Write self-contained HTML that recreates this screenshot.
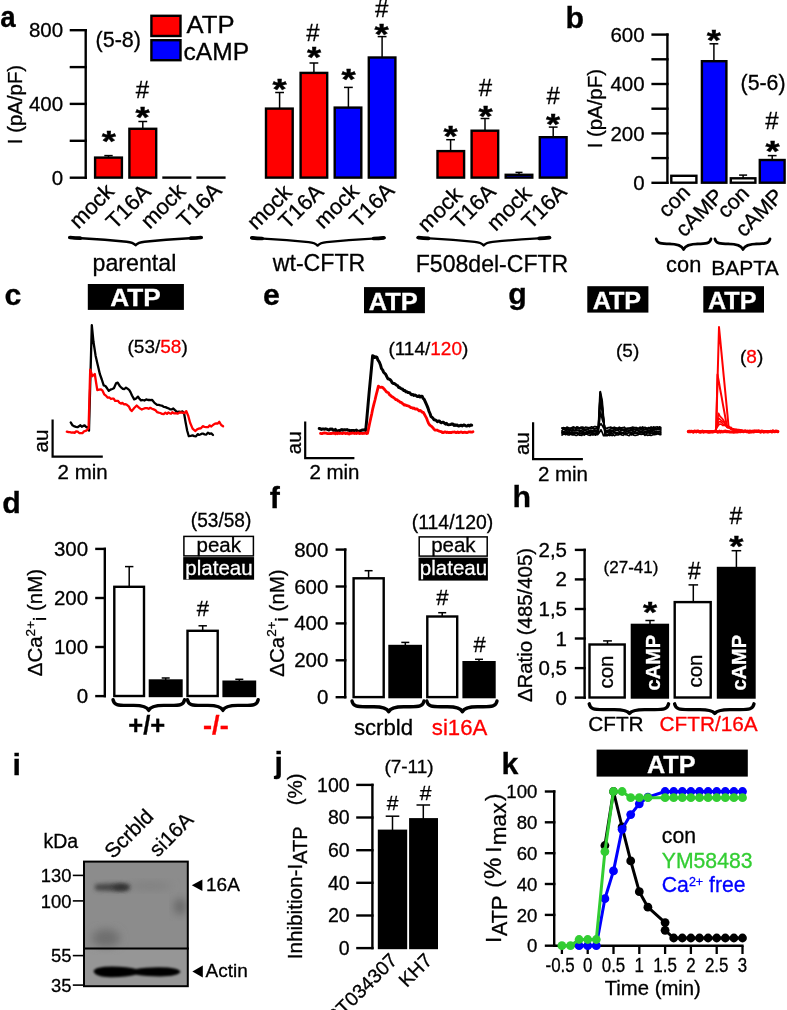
<!DOCTYPE html>
<html><head><meta charset="utf-8"><title>Figure</title>
<style>html,body{margin:0;padding:0;background:#fff}svg{display:block;filter:blur(0.4px)}text{font-family:"Liberation Sans",Arial,sans-serif}</style>
</head><body>
<svg width="787" height="1010" viewBox="0 0 787 1010">
<rect width="787" height="1010" fill="#fff"/>
<text x="0.3" y="26.9" font-size="30.3" font-weight="bold" stroke="#000" stroke-width="0.3" textLength="15.4" lengthAdjust="spacingAndGlyphs">a</text>
<line x1="85.7" y1="29.0" x2="85.7" y2="178.9" stroke="#000" stroke-width="2.4" stroke-linecap="butt"/>
<line x1="69.7" y1="30.2" x2="86.9" y2="30.2" stroke="#000" stroke-width="2.4" stroke-linecap="butt"/>
<line x1="69.7" y1="67.1" x2="86.9" y2="67.1" stroke="#000" stroke-width="2.4" stroke-linecap="butt"/>
<line x1="69.7" y1="103.9" x2="86.9" y2="103.9" stroke="#000" stroke-width="2.4" stroke-linecap="butt"/>
<line x1="69.7" y1="140.8" x2="86.9" y2="140.8" stroke="#000" stroke-width="2.4" stroke-linecap="butt"/>
<line x1="69.7" y1="177.7" x2="86.9" y2="177.7" stroke="#000" stroke-width="2.4" stroke-linecap="butt"/>
<text x="63.2" y="37.3" font-size="20.5" text-anchor="end" stroke="#000" stroke-width="0.3">800</text>
<text x="63.2" y="111.0" font-size="20.5" text-anchor="end" stroke="#000" stroke-width="0.3">400</text>
<text x="63.2" y="184.8" font-size="20.5" text-anchor="end" stroke="#000" stroke-width="0.3">0</text>
<text transform="translate(21.8,104.5) rotate(-90)" font-size="20.4" text-anchor="middle" stroke="#000" stroke-width="0.3">I (pA/pF)</text>
<text x="95.6" y="46.5" font-size="21.5" stroke="#000" stroke-width="0.3">(5-8)</text>
<rect x="151.4" y="15.8" width="29.1" height="20.2" fill="#ff0000" stroke="#000" stroke-width="2.4"/>
<rect x="151.4" y="40.2" width="29.1" height="20.0" fill="#0000ff" stroke="#000" stroke-width="2.4"/>
<text x="186.6" y="32.6" font-size="23.5" stroke="#000" stroke-width="0.3" textLength="48.0" lengthAdjust="spacingAndGlyphs">ATP</text>
<text x="183.6" y="60.1" font-size="23.5" stroke="#000" stroke-width="0.3" textLength="65.5" lengthAdjust="spacingAndGlyphs">cAMP</text>
<rect x="95.1" y="157.6" width="26.8" height="20.0" fill="#ff0000" stroke="#000" stroke-width="2.4"/>
<rect x="129.4" y="128.8" width="26.8" height="48.8" fill="#ff0000" stroke="#000" stroke-width="2.4"/>
<line x1="162.3" y1="177.6" x2="191.4" y2="177.6" stroke="#000" stroke-width="2.4" stroke-linecap="butt"/>
<line x1="196.4" y1="177.6" x2="225.6" y2="177.6" stroke="#000" stroke-width="2.4" stroke-linecap="butt"/>
<line x1="108.5" y1="155.6" x2="108.5" y2="157.4" stroke="#000" stroke-width="1.5" stroke-linecap="butt"/>
<line x1="104.3" y1="155.6" x2="112.7" y2="155.6" stroke="#000" stroke-width="1.5" stroke-linecap="butt"/>
<line x1="142.8" y1="121.5" x2="142.8" y2="128.6" stroke="#000" stroke-width="1.5" stroke-linecap="butt"/>
<line x1="138.4" y1="121.5" x2="147.2" y2="121.5" stroke="#000" stroke-width="1.5" stroke-linecap="butt"/>
<text transform="translate(101.72,151.11) scale(1.009,0.826)" font-size="36.0" font-weight="bold" stroke="#000" stroke-width="0.5">*</text>
<text transform="translate(135.52,127.09) scale(1.009,0.841)" font-size="36.0" font-weight="bold" stroke="#000" stroke-width="0.5">*</text>
<text x="135.7" y="97.6" font-size="24" stroke="#000" stroke-width="0.3">#</text>
<rect x="266.0" y="108.6" width="26.7" height="69.0" fill="#ff0000" stroke="#000" stroke-width="2.4"/>
<rect x="300.6" y="72.9" width="26.6" height="104.7" fill="#ff0000" stroke="#000" stroke-width="2.4"/>
<rect x="334.7" y="107.6" width="26.6" height="70.0" fill="#0000ff" stroke="#000" stroke-width="2.4"/>
<rect x="368.8" y="57.5" width="26.6" height="120.1" fill="#0000ff" stroke="#000" stroke-width="2.4"/>
<line x1="279.6" y1="92.5" x2="279.6" y2="108.4" stroke="#000" stroke-width="1.5" stroke-linecap="butt"/>
<line x1="275.2" y1="92.5" x2="284.0" y2="92.5" stroke="#000" stroke-width="1.5" stroke-linecap="butt"/>
<line x1="313.9" y1="63.0" x2="313.9" y2="72.7" stroke="#000" stroke-width="1.5" stroke-linecap="butt"/>
<line x1="309.5" y1="63.0" x2="318.3" y2="63.0" stroke="#000" stroke-width="1.5" stroke-linecap="butt"/>
<line x1="348.4" y1="87.4" x2="348.4" y2="107.4" stroke="#000" stroke-width="1.5" stroke-linecap="butt"/>
<line x1="344.0" y1="87.4" x2="352.8" y2="87.4" stroke="#000" stroke-width="1.5" stroke-linecap="butt"/>
<line x1="382.1" y1="36.6" x2="382.1" y2="57.3" stroke="#000" stroke-width="1.5" stroke-linecap="butt"/>
<line x1="377.7" y1="36.6" x2="386.5" y2="36.6" stroke="#000" stroke-width="1.5" stroke-linecap="butt"/>
<text transform="translate(272.42,98.91) scale(1.009,0.826)" font-size="36.0" font-weight="bold" stroke="#000" stroke-width="0.5">*</text>
<text transform="translate(306.92,66.81) scale(1.009,0.826)" font-size="36.0" font-weight="bold" stroke="#000" stroke-width="0.5">*</text>
<text transform="translate(341.52,89.19) scale(1.009,0.841)" font-size="36.0" font-weight="bold" stroke="#000" stroke-width="0.5">*</text>
<text transform="translate(374.62,44.29) scale(1.009,0.841)" font-size="36.0" font-weight="bold" stroke="#000" stroke-width="0.5">*</text>
<text x="306.3" y="40.6" font-size="24" stroke="#000" stroke-width="0.3">#</text>
<text x="375.0" y="17.2" font-size="24" stroke="#000" stroke-width="0.3">#</text>
<rect x="437.5" y="151.1" width="26.6" height="26.5" fill="#ff0000" stroke="#000" stroke-width="2.4"/>
<rect x="471.6" y="130.7" width="26.6" height="46.9" fill="#ff0000" stroke="#000" stroke-width="2.4"/>
<rect x="505.7" y="174.8" width="26.6" height="2.8" fill="#0000ff" stroke="#000" stroke-width="2.4"/>
<rect x="539.8" y="137.2" width="26.8" height="40.4" fill="#0000ff" stroke="#000" stroke-width="2.4"/>
<line x1="450.6" y1="139.7" x2="450.6" y2="150.9" stroke="#000" stroke-width="1.5" stroke-linecap="butt"/>
<line x1="446.2" y1="139.7" x2="455.0" y2="139.7" stroke="#000" stroke-width="1.5" stroke-linecap="butt"/>
<line x1="485.0" y1="118.5" x2="485.0" y2="130.5" stroke="#000" stroke-width="1.5" stroke-linecap="butt"/>
<line x1="480.6" y1="118.5" x2="489.4" y2="118.5" stroke="#000" stroke-width="1.5" stroke-linecap="butt"/>
<line x1="519.0" y1="172.4" x2="519.0" y2="174.6" stroke="#000" stroke-width="1.5" stroke-linecap="butt"/>
<line x1="515.5" y1="172.4" x2="522.5" y2="172.4" stroke="#000" stroke-width="1.5" stroke-linecap="butt"/>
<line x1="553.2" y1="127.1" x2="553.2" y2="137.0" stroke="#000" stroke-width="1.5" stroke-linecap="butt"/>
<line x1="548.8" y1="127.1" x2="557.6" y2="127.1" stroke="#000" stroke-width="1.5" stroke-linecap="butt"/>
<text transform="translate(443.52,146.01) scale(1.009,0.826)" font-size="36.0" font-weight="bold" stroke="#000" stroke-width="0.5">*</text>
<text transform="translate(478.42,126.11) scale(1.009,0.826)" font-size="36.0" font-weight="bold" stroke="#000" stroke-width="0.5">*</text>
<text transform="translate(546.12,134.31) scale(1.009,0.826)" font-size="36.0" font-weight="bold" stroke="#000" stroke-width="0.5">*</text>
<text x="478.8" y="95.8" font-size="24" stroke="#000" stroke-width="0.3">#</text>
<text x="546.5" y="104.0" font-size="24" stroke="#000" stroke-width="0.3">#</text>
<text transform="translate(115.4,192.6) rotate(-45)" font-size="22" text-anchor="end" stroke="#000" stroke-width="0.3">mock</text>
<text transform="translate(152.1,193.0) rotate(-45)" font-size="22" text-anchor="end" stroke="#000" stroke-width="0.3">T16A</text>
<text transform="translate(186.8,192.6) rotate(-45)" font-size="22" text-anchor="end" stroke="#000" stroke-width="0.3">mock</text>
<text transform="translate(223.0,191.8) rotate(-45)" font-size="22" text-anchor="end" stroke="#000" stroke-width="0.3">T16A</text>
<text transform="translate(293.1,193.7) rotate(-45)" font-size="22" text-anchor="end" stroke="#000" stroke-width="0.3">mock</text>
<text transform="translate(324.8,193.0) rotate(-45)" font-size="22" text-anchor="end" stroke="#000" stroke-width="0.3">T16A</text>
<text transform="translate(360.2,192.6) rotate(-45)" font-size="22" text-anchor="end" stroke="#000" stroke-width="0.3">mock</text>
<text transform="translate(395.7,191.8) rotate(-45)" font-size="22" text-anchor="end" stroke="#000" stroke-width="0.3">T16A</text>
<text transform="translate(463.6,196.0) rotate(-45)" font-size="22" text-anchor="end" stroke="#000" stroke-width="0.3">mock</text>
<text transform="translate(497.1,193.0) rotate(-45)" font-size="22" text-anchor="end" stroke="#000" stroke-width="0.3">T16A</text>
<text transform="translate(532.9,194.9) rotate(-45)" font-size="22" text-anchor="end" stroke="#000" stroke-width="0.3">mock</text>
<text transform="translate(568.0,193.0) rotate(-45)" font-size="22" text-anchor="end" stroke="#000" stroke-width="0.3">T16A</text>
<path d="M69.2,237.5 Q75.2,238.3 81.2,238.3 C91.8,238.9 113.7,240.5 126.6,241.8 Q133.1,242.5 135.6,245.3 Q138.1,242.5 144.6,241.8 C157.4,240.5 179.3,238.9 189.8,238.3 Q195.8,238.3 201.8,237.5" fill="none" stroke="#000" stroke-width="2.4" stroke-linecap="round" stroke-linejoin="round"/>
<path d="M70.1,237.5 Q75.2,238.2 80.2,238.2" fill="none" stroke="#000" stroke-width="3.7" stroke-linecap="round"/>
<path d="M200.9,237.5 Q195.8,238.2 190.8,238.2" fill="none" stroke="#000" stroke-width="3.7" stroke-linecap="round"/>
<path d="M251.2,237.8 Q257.2,238.6 263.2,238.6 C273.8,239.2 295.7,240.8 308.6,242.1 Q315.1,242.8 317.6,245.6 Q320.1,242.8 326.6,242.1 C339.7,240.8 361.8,239.2 372.6,238.6 Q378.6,238.6 384.6,237.8" fill="none" stroke="#000" stroke-width="2.4" stroke-linecap="round" stroke-linejoin="round"/>
<path d="M252.1,237.8 Q257.2,238.5 262.2,238.5" fill="none" stroke="#000" stroke-width="3.7" stroke-linecap="round"/>
<path d="M383.7,237.8 Q378.6,238.5 373.6,238.5" fill="none" stroke="#000" stroke-width="3.7" stroke-linecap="round"/>
<path d="M417.5,237.6 Q423.5,238.4 429.5,238.4 C440.0,239.0 461.9,240.6 474.7,241.9 Q481.2,242.6 483.7,245.4 Q486.2,242.6 492.7,241.9 C505.6,240.6 527.6,239.0 538.2,238.4 Q544.2,238.4 550.2,237.6" fill="none" stroke="#000" stroke-width="2.4" stroke-linecap="round" stroke-linejoin="round"/>
<path d="M418.4,237.6 Q423.5,238.3 428.5,238.3" fill="none" stroke="#000" stroke-width="3.7" stroke-linecap="round"/>
<path d="M549.3,237.6 Q544.2,238.3 539.2,238.3" fill="none" stroke="#000" stroke-width="3.7" stroke-linecap="round"/>
<text x="134.4" y="270.8" font-size="24.3" text-anchor="middle" stroke="#000" stroke-width="0.3" textLength="83.8" lengthAdjust="spacingAndGlyphs">parental</text>
<text x="319.0" y="271.0" font-size="24.3" text-anchor="middle" stroke="#000" stroke-width="0.3" textLength="92.5" lengthAdjust="spacingAndGlyphs">wt-CFTR</text>
<text x="492.0" y="271.7" font-size="24.3" text-anchor="middle" stroke="#000" stroke-width="0.3" textLength="152.5" lengthAdjust="spacingAndGlyphs">F508del-CFTR</text>
<text x="565.5" y="27.6" font-size="30.3" font-weight="bold" stroke="#000" stroke-width="0.3">b</text>
<line x1="667.4" y1="33.4" x2="667.4" y2="184.0" stroke="#000" stroke-width="2.4" stroke-linecap="butt"/>
<line x1="651.4" y1="34.6" x2="668.6" y2="34.6" stroke="#000" stroke-width="2.4" stroke-linecap="butt"/>
<line x1="651.4" y1="59.3" x2="668.6" y2="59.3" stroke="#000" stroke-width="2.4" stroke-linecap="butt"/>
<line x1="651.4" y1="84.0" x2="668.6" y2="84.0" stroke="#000" stroke-width="2.4" stroke-linecap="butt"/>
<line x1="651.4" y1="108.7" x2="668.6" y2="108.7" stroke="#000" stroke-width="2.4" stroke-linecap="butt"/>
<line x1="651.4" y1="133.4" x2="668.6" y2="133.4" stroke="#000" stroke-width="2.4" stroke-linecap="butt"/>
<line x1="651.4" y1="158.1" x2="668.6" y2="158.1" stroke="#000" stroke-width="2.4" stroke-linecap="butt"/>
<line x1="651.4" y1="182.8" x2="668.6" y2="182.8" stroke="#000" stroke-width="2.4" stroke-linecap="butt"/>
<text x="644.6" y="41.7" font-size="20.5" text-anchor="end" stroke="#000" stroke-width="0.3">600</text>
<text x="644.6" y="91.1" font-size="20.5" text-anchor="end" stroke="#000" stroke-width="0.3">400</text>
<text x="644.6" y="140.5" font-size="20.5" text-anchor="end" stroke="#000" stroke-width="0.3">200</text>
<text x="644.6" y="189.9" font-size="20.5" text-anchor="end" stroke="#000" stroke-width="0.3">0</text>
<text transform="translate(602.1,108.7) rotate(-90)" font-size="20.4" text-anchor="middle" stroke="#000" stroke-width="0.3">I (pA/pF)</text>
<rect x="671.3" y="175.8" width="25.1" height="6.9" fill="#fff" stroke="#000" stroke-width="2.4"/>
<rect x="701.9" y="61.2" width="24.5" height="121.5" fill="#0000ff" stroke="#000" stroke-width="2.4"/>
<rect x="730.8" y="178.3" width="24.6" height="4.4" fill="#fff" stroke="#000" stroke-width="2.4"/>
<rect x="759.8" y="160.0" width="24.8" height="22.7" fill="#0000ff" stroke="#000" stroke-width="2.4"/>
<line x1="713.9" y1="43.8" x2="713.9" y2="61.0" stroke="#000" stroke-width="1.5" stroke-linecap="butt"/>
<line x1="709.5" y1="43.8" x2="718.3" y2="43.8" stroke="#000" stroke-width="1.5" stroke-linecap="butt"/>
<line x1="743.1" y1="175.1" x2="743.1" y2="178.1" stroke="#000" stroke-width="1.5" stroke-linecap="butt"/>
<line x1="739.1" y1="175.1" x2="747.1" y2="175.1" stroke="#000" stroke-width="1.5" stroke-linecap="butt"/>
<line x1="772.2" y1="155.6" x2="772.2" y2="159.8" stroke="#000" stroke-width="1.5" stroke-linecap="butt"/>
<line x1="767.8" y1="155.6" x2="776.6" y2="155.6" stroke="#000" stroke-width="1.5" stroke-linecap="butt"/>
<text transform="translate(706.72,50.31) scale(1.009,0.826)" font-size="36.0" font-weight="bold" stroke="#000" stroke-width="0.5">*</text>
<text transform="translate(765.52,160.94) scale(1.009,0.811)" font-size="36.0" font-weight="bold" stroke="#000" stroke-width="0.5">*</text>
<text x="765.3" y="128.8" font-size="24" stroke="#000" stroke-width="0.3">#</text>
<text x="740.6" y="89.6" font-size="21.3" stroke="#000" stroke-width="0.3">(5-6)</text>
<text transform="translate(691.4,193.9) rotate(-45)" font-size="21.5" text-anchor="end" stroke="#000" stroke-width="0.3">con</text>
<text transform="translate(750.4,194.7) rotate(-45)" font-size="21.5" text-anchor="end" stroke="#000" stroke-width="0.3">con</text>
<text transform="translate(724.7,197.5) rotate(-45)" font-size="21.5" text-anchor="end" stroke="#000" stroke-width="0.3">cAMP</text>
<text transform="translate(784.5,197.5) rotate(-45)" font-size="21.5" text-anchor="end" stroke="#000" stroke-width="0.3">cAMP</text>
<path d="M656.2,238.9 C657.2,243.6 661.2,243.9 670.2,243.9 L668.6,243.9 C677.6,243.9 682.1,245.6 683.6,249.5 C685.1,245.6 689.6,243.9 698.6,243.9 L697.0,243.9 C706.0,243.9 710.0,243.6 711.0,238.9" fill="none" stroke="#000" stroke-width="2.7" stroke-linecap="round" stroke-linejoin="round"/>
<path d="M714.9,238.9 C715.9,243.6 719.9,243.9 728.9,243.9 L728.0,243.9 C737.0,243.9 741.5,245.6 743.0,249.5 C744.5,245.6 749.0,243.9 758.0,243.9 L756.0,243.9 C765.0,243.9 769.0,243.6 770.0,238.9" fill="none" stroke="#000" stroke-width="2.7" stroke-linecap="round" stroke-linejoin="round"/>
<text x="683.7" y="272.4" font-size="21.8" text-anchor="middle" stroke="#000" stroke-width="0.3">con</text>
<text x="745.0" y="275.0" font-size="21.0" text-anchor="middle" stroke="#000" stroke-width="0.3">BAPTA</text>
<text x="4.5" y="305.2" font-size="30.3" font-weight="bold" stroke="#000" stroke-width="0.3">c</text>
<rect x="87.8" y="284.0" width="96.1" height="25.9" fill="#000"/>
<text x="135.4" y="306.1" font-size="23.5" text-anchor="middle" font-weight="bold" fill="#fff" stroke="#fff" stroke-width="0.3" textLength="50.5" lengthAdjust="spacingAndGlyphs">ATP</text>
<text x="263.0" y="305.2" font-size="30.3" font-weight="bold" stroke="#000" stroke-width="0.3">e</text>
<rect x="364.0" y="287.1" width="60.9" height="26.1" fill="#000"/>
<text x="393.2" y="310.1" font-size="23.5" text-anchor="middle" font-weight="bold" fill="#fff" stroke="#fff" stroke-width="0.3" textLength="49.0" lengthAdjust="spacingAndGlyphs">ATP</text>
<text x="508.2" y="304.2" font-size="30.3" font-weight="bold" stroke="#000" stroke-width="0.3">g</text>
<rect x="587.3" y="286.2" width="61.1" height="26.4" fill="#000"/>
<text x="616.9" y="308.9" font-size="23" text-anchor="middle" font-weight="bold" fill="#fff" stroke="#fff" stroke-width="0.3" textLength="48.5" lengthAdjust="spacingAndGlyphs">ATP</text>
<rect x="703.3" y="286.2" width="60.7" height="26.4" fill="#000"/>
<text x="732.3" y="308.9" font-size="23" text-anchor="middle" font-weight="bold" fill="#fff" stroke="#fff" stroke-width="0.3" textLength="48.5" lengthAdjust="spacingAndGlyphs">ATP</text>
<text x="127.5" y="353.2" font-size="19" stroke="#000" stroke-width="0.3">(53/<tspan fill="#ff0000" stroke="#ff0000">58</tspan>)</text>
<text x="388.4" y="354.7" font-size="19" stroke="#000" stroke-width="0.3">(114/<tspan fill="#ff0000" stroke="#ff0000">120</tspan>)</text>
<text x="616.0" y="357.4" font-size="19" stroke="#000" stroke-width="0.3">(5)</text>
<text x="740.0" y="363.0" font-size="19" stroke="#000" stroke-width="0.3">(<tspan fill="#ff0000" stroke="#ff0000">8</tspan>)</text>
<path d="M52.6,419.6 L52.6,456.6 L102.8,456.6" fill="none" stroke="#000" stroke-width="2.2"/>
<text transform="translate(48.3,441.1) rotate(-90)" font-size="20.5" text-anchor="middle" stroke="#000" stroke-width="0.3">au</text>
<text x="57.6" y="478.9" font-size="20.5" stroke="#000" stroke-width="0.3">2 min</text>
<path d="M305.2,421.5 L305.2,458.1 L354.4,458.1" fill="none" stroke="#000" stroke-width="2.2"/>
<text transform="translate(300.9,442.8) rotate(-90)" font-size="20.5" text-anchor="middle" stroke="#000" stroke-width="0.3">au</text>
<text x="309.4" y="479.4" font-size="20.5" stroke="#000" stroke-width="0.3">2 min</text>
<path d="M533.1,422.2 L533.1,459.2 L582.9,459.2" fill="none" stroke="#000" stroke-width="2.2"/>
<text transform="translate(528.8,443.7) rotate(-90)" font-size="20.5" text-anchor="middle" stroke="#000" stroke-width="0.3">au</text>
<text x="537.9" y="480.5" font-size="20.5" stroke="#000" stroke-width="0.3">2 min</text>
<polyline points="70.7,422.4 72.5,425.3 74.5,426.4 76.0,426.9 77.5,427.2 79.0,426.2 80.4,425.3 81.8,426.7 83.2,425.9 84.6,425.4 86.4,427.3 88.2,427.0 89.0,430.6 90.4,377.9 91.8,325.2 93.5,342.0 95.6,355.7 97.5,363.9 99.9,374.2 101.8,379.5 103.7,385.4 105.4,386.0 107.1,388.3 108.8,390.8 110.5,389.6 112.2,389.0 113.9,388.2 116.0,383.4 117.7,382.6 120.0,386.3 121.4,387.7 122.8,388.8 124.4,389.0 126.0,387.6 127.5,388.6 129.1,389.8 130.6,392.4 132.0,395.5 134.2,399.4 136.1,398.5 138.0,396.6 139.5,398.8 141.0,400.4 142.7,400.0 144.4,400.5 146.2,399.4 148.0,400.0 149.3,399.8 150.7,400.2 152.0,399.8 154.5,402.9 157.1,404.9 158.7,404.8 160.4,405.3 162.0,405.7 163.7,406.8 165.5,407.1 167.2,407.9 168.8,408.5 170.4,409.4 172.0,409.3 173.3,408.5 174.7,409.9 176.1,411.2 177.4,411.9 179.1,411.7 180.8,412.1 182.5,411.4 184.2,414.0 185.5,421.7 187.2,430.7 188.8,436.2 190.7,435.9 192.6,435.4 194.3,436.1 196.0,436.3 197.7,434.1 199.0,434.9 200.3,434.5 201.7,433.7 203.0,433.7 204.6,434.3 206.3,434.6 207.9,432.6 209.6,433.8 211.3,433.4 213.0,435.0" fill="none" stroke="#000" stroke-width="2.3" stroke-linejoin="round" stroke-linecap="round"/>
<polyline points="66.8,431.7 68.3,432.0 69.9,432.2 71.5,432.6 73.0,432.3 74.6,432.9 76.1,431.3 77.7,431.6 79.2,433.0 80.8,433.2 82.4,433.2 84.0,431.3 85.6,430.9 87.2,429.9 88.6,428.0 90.2,369.7 92.3,376.2 94.8,374.0 96.0,382.0 97.3,390.1 99.0,389.6 100.7,389.3 102.4,390.4 104.2,394.3 106.2,395.9 107.8,397.7 109.4,397.5 111.0,399.0 112.3,398.7 113.7,398.7 115.1,400.9 116.4,400.8 117.9,400.8 119.5,402.7 121.0,403.6 122.4,402.9 123.8,404.3 125.2,404.2 126.6,404.6 129.0,406.7 130.3,409.5 131.7,411.1 134.2,408.0 136.7,405.5 139.2,407.9 140.5,408.8 141.8,409.5 143.5,408.8 145.3,408.1 147.0,408.1 148.7,408.8 150.3,407.8 152.0,408.7 153.7,409.4 155.3,410.1 157.0,412.1 158.7,412.6 160.4,413.0 162.1,413.9 163.7,414.2 165.4,412.7 167.0,413.9 168.3,412.4 169.7,413.2 171.0,413.8 172.3,412.2 174.0,413.4 175.8,413.2 177.5,413.7 179.2,412.7 180.8,412.4 182.5,412.6 184.4,413.1 186.3,411.1 188.2,415.8 190.1,422.8 192.6,428.6 195.2,431.0 197.1,429.4 199.0,428.5 200.9,428.3 202.8,426.2 204.5,426.8 206.3,427.1 208.0,427.2 209.7,425.4 211.3,426.5 213.0,425.0 214.6,423.9 216.2,423.4 217.8,423.5 219.3,421.8 221.2,425.0 223.1,426.3" fill="none" stroke="#ff0000" stroke-width="2.3" stroke-linejoin="round" stroke-linecap="round"/>
<polyline points="319.2,428.5 320.3,428.8 321.4,429.4 322.4,429.0 323.5,429.0 324.6,429.2 325.7,428.8 326.8,429.2 327.8,429.6 328.9,430.0 330.0,429.1 331.1,429.3 332.2,429.1 333.2,430.2 334.3,430.3 335.4,429.4 336.5,430.7 337.6,430.9 338.6,430.6 339.7,430.6 340.8,430.0 341.8,429.6 342.9,430.3 343.9,429.7 344.9,429.8 346.0,429.9 347.0,429.6 348.1,430.2 349.1,430.3 350.1,430.9 351.2,430.5 352.2,430.6 353.2,430.4 354.3,430.6 355.3,430.4 356.4,430.1 357.4,431.1 358.4,431.2 359.5,431.1 360.5,430.8 361.6,430.2 362.6,430.0 363.6,430.0 364.7,429.7 365.7,430.4 366.9,417.9 368.0,405.4 369.1,392.9 370.3,380.4 371.5,367.9 372.6,355.8 373.7,356.1 374.8,357.5 375.9,356.8 376.9,357.3 378.0,360.2 379.2,361.8 380.4,364.7 381.5,368.6 382.6,369.9 383.6,372.2 384.6,373.2 385.7,374.3 386.8,376.7 387.8,378.7 388.9,379.0 390.0,379.6 391.1,380.8 392.2,382.7 393.4,383.5 394.5,383.5 395.6,384.5 396.7,385.2 397.7,385.8 398.7,387.5 399.8,387.4 400.8,388.5 401.8,389.0 402.8,389.3 403.8,390.6 404.9,390.5 405.9,391.8 406.9,391.8 407.9,392.5 408.9,392.6 410.0,393.0 411.0,394.4 412.0,394.8 413.0,394.4 414.0,395.5 415.1,395.0 416.1,395.5 417.1,396.6 418.1,396.5 419.1,395.8 420.1,397.0 421.1,396.2 422.1,396.2 423.1,398.4 424.2,399.3 426.0,403.4 427.0,405.6 428.0,408.1 429.0,411.3 430.0,413.5 431.0,416.5 432.0,417.2 433.0,418.2 434.0,419.8 435.1,419.9 436.3,420.5 437.4,421.6 438.4,421.0 439.4,421.0 440.5,422.4 441.5,422.8 442.5,422.2 443.5,422.3 444.5,423.3 445.6,424.1 446.6,423.4 447.6,424.6 448.7,424.8 449.7,424.6 450.8,424.4 451.8,424.0 452.9,424.0 454.0,425.4 455.0,424.8 456.1,425.4 457.1,425.0 458.2,425.9 459.2,425.9 460.3,425.5 461.3,425.2 462.4,425.9 463.4,425.1 464.4,425.1 465.5,425.6 466.5,426.0 467.6,425.7 468.6,425.2 469.6,425.9 470.7,425.0 471.7,425.3" fill="none" stroke="#000" stroke-width="3.0" stroke-linejoin="round" stroke-linecap="round"/>
<polyline points="320.5,433.4 321.5,433.6 322.5,433.6 323.5,433.1 324.5,432.8 325.5,433.1 326.5,433.1 327.5,433.7 328.5,433.7 329.5,433.6 330.5,433.5 331.5,433.6 332.5,433.1 333.5,433.3 334.5,433.0 335.5,433.8 336.5,433.0 337.5,433.7 338.5,433.0 339.5,433.5 340.5,433.2 341.5,433.3 342.5,433.7 343.5,432.9 344.5,432.8 345.5,433.7 346.5,433.5 347.5,433.0 348.5,433.8 349.5,434.0 350.5,433.1 351.5,433.3 352.5,433.0 353.5,433.1 354.5,433.5 355.5,433.1 356.5,433.5 357.5,432.9 358.5,433.0 359.5,433.7 360.5,433.3 361.5,433.3 362.5,433.5 363.5,433.4 364.5,433.3 365.5,432.9 366.5,433.5 367.5,433.4 368.6,428.4 369.6,423.5 370.7,418.5 371.8,413.6 372.8,408.6 373.9,404.2 375.0,400.0 376.1,395.3 377.3,390.6 378.4,386.2 379.5,386.9 380.6,387.4 381.7,387.2 382.8,387.5 383.9,388.8 385.0,390.0 386.1,391.5 387.2,392.3 388.4,392.8 389.5,394.7 390.6,395.5 391.7,396.6 392.8,397.0 393.8,397.9 394.9,398.6 395.9,399.7 397.0,399.7 398.0,400.8 399.1,401.1 400.2,402.3 401.2,402.4 402.3,403.3 403.3,404.1 404.4,405.1 405.5,404.9 406.5,405.6 407.6,405.7 408.6,406.1 409.7,406.7 410.8,407.6 411.8,407.6 412.9,408.4 413.9,408.0 415.0,409.0 416.0,408.9 417.1,409.0 418.2,410.0 419.2,410.9 420.2,410.5 421.3,411.2 422.3,412.3 423.4,412.5 424.4,414.3 425.4,416.1 426.5,418.1 427.5,420.8 428.5,423.3 429.5,424.8 430.5,425.6 431.5,426.3 432.6,427.4 433.8,428.9 434.9,430.0 436.0,430.2 437.1,430.1 438.2,430.7 439.2,431.1 440.3,431.6 441.4,431.6 442.5,432.6 443.5,432.7 444.5,432.0 445.5,432.0 446.6,432.6 447.6,432.1 448.6,432.7 449.6,432.4 450.6,432.5 451.6,432.6 452.6,432.1 453.6,432.1 454.7,432.0 455.7,432.5 456.7,432.6 457.7,432.0 458.7,432.7 459.7,432.3 460.8,432.0 461.8,432.1 462.8,432.7 463.8,432.3 464.8,432.2 465.9,432.5 466.9,432.6 467.9,432.3 468.9,431.9 469.9,431.9 471.0,432.2 472.0,432.1 473.0,431.7" fill="none" stroke="#ff0000" stroke-width="2.8" stroke-linejoin="round" stroke-linecap="round"/>
<polyline points="562.0,428.0 563.2,427.7 564.5,427.8 565.7,428.1 566.9,427.1 568.2,427.6 569.4,428.0 570.6,428.0 571.9,427.6 573.1,426.9 574.3,427.2 575.6,428.1 576.8,426.9 578.0,427.1 579.3,428.1 580.5,427.4 581.8,427.0 583.0,427.1 584.2,428.0 585.5,427.2 586.7,427.3 587.9,427.6 589.2,427.9 590.4,427.4 591.6,426.8 592.9,427.4 594.1,426.7 595.3,426.7 596.6,426.9 597.8,427.6 599.0,426.1 601.0,423.7 602.2,425.4 603.5,427.8 604.8,427.4 606.0,428.1 607.2,428.5 608.4,427.5 609.7,427.4 610.9,427.1 612.1,428.0 613.3,427.5 614.5,427.2 615.7,428.0 617.0,428.0 618.2,427.7 619.4,427.2 620.6,427.9 621.8,427.9 623.0,427.7 624.3,427.2 625.5,428.3 626.7,428.3 627.9,428.0 629.1,428.5 630.4,427.9 631.6,427.5 632.8,427.1 634.0,427.7 635.2,427.7 636.4,427.5 637.7,428.4 638.9,428.2 640.1,427.1 641.3,428.1 642.5,426.9 643.8,427.7 645.0,427.3 646.2,427.9 647.4,428.2 648.6,427.6 649.8,427.9 651.1,426.9 652.3,427.7 653.5,426.9 654.7,427.3 655.9,427.2 657.1,426.8 658.4,427.7 659.6,426.8 660.8,427.4" fill="none" stroke="#000" stroke-width="1.7" stroke-linejoin="round" stroke-linecap="round"/>
<polyline points="562.0,428.1 563.2,428.8 564.5,428.8 565.7,428.6 566.9,428.2 568.2,429.0 569.4,429.1 570.6,428.7 571.9,428.6 573.1,428.2 574.3,427.8 575.6,428.3 576.8,428.7 578.0,428.0 579.3,429.0 580.5,428.2 581.8,428.2 583.0,427.9 584.2,429.3 585.5,429.0 586.7,429.2 587.9,428.8 589.2,427.9 590.4,428.3 591.6,428.6 592.9,428.0 594.1,429.2 595.3,428.5 596.6,428.1 597.8,428.6 598.4,425.6 600.0,392.0 601.8,401.0 603.6,420.6 605.0,430.9 607.0,430.3 608.3,430.7 609.7,429.3 611.0,428.7 612.2,428.4 613.4,428.6 614.6,428.1 615.9,427.8 617.1,429.1 618.3,428.2 619.5,429.0 620.7,428.2 621.9,429.3 623.1,429.3 624.4,429.1 625.6,429.0 626.8,428.8 628.0,429.0 629.2,428.1 630.4,428.5 631.6,429.1 632.9,428.2 634.1,429.2 635.3,429.2 636.5,428.5 637.7,428.4 638.9,428.5 640.2,428.4 641.4,429.3 642.6,428.5 643.8,427.9 645.0,427.9 646.2,428.9 647.4,429.4 648.7,428.7 649.9,428.6 651.1,428.7 652.3,429.0 653.5,428.2 654.7,428.7 655.9,428.7 657.2,428.8 658.4,428.1 659.6,428.1 660.8,428.6" fill="none" stroke="#000" stroke-width="1.7" stroke-linejoin="round" stroke-linecap="round"/>
<polyline points="562.0,430.5 563.2,429.3 564.5,429.0 565.7,430.5 566.9,429.4 568.2,429.2 569.4,430.0 570.6,429.6 571.9,430.4 573.1,429.4 574.3,430.5 575.6,429.6 576.8,429.9 578.0,430.5 579.3,430.1 580.5,430.5 581.8,430.2 583.0,429.2 584.2,430.3 585.5,430.0 586.7,429.5 587.9,429.3 589.2,430.3 590.4,430.0 591.6,430.5 592.9,430.3 594.1,430.5 595.3,430.0 596.6,430.1 597.8,429.8 598.4,426.8 600.2,396.0 602.0,405.0 603.8,421.8 605.0,431.8 607.0,431.6 608.3,431.9 609.7,430.3 611.0,430.2 612.2,430.5 613.4,430.1 614.6,429.3 615.9,430.2 617.1,430.1 618.3,429.4 619.5,429.1 620.7,429.8 621.9,429.1 623.1,430.4 624.4,429.9 625.6,429.8 626.8,429.7 628.0,430.0 629.2,430.5 630.4,429.6 631.6,429.6 632.9,429.9 634.1,429.5 635.3,429.9 636.5,429.9 637.7,429.7 638.9,430.1 640.2,429.9 641.4,429.2 642.6,430.5 643.8,429.6 645.0,429.7 646.2,429.6 647.4,430.4 648.7,430.6 649.9,429.9 651.1,429.7 652.3,429.2 653.5,430.3 654.7,429.4 655.9,429.8 657.2,429.6 658.4,429.5 659.6,429.6 660.8,429.8" fill="none" stroke="#000" stroke-width="1.7" stroke-linejoin="round" stroke-linecap="round"/>
<polyline points="562.0,431.6 563.2,431.7 564.5,431.7 565.7,430.4 566.9,431.1 568.2,430.9 569.4,431.0 570.6,430.4 571.9,430.5 573.1,430.9 574.3,430.6 575.6,430.9 576.8,430.3 578.0,430.3 579.3,431.2 580.5,430.9 581.8,431.0 583.0,431.4 584.2,430.8 585.5,430.3 586.7,431.4 587.9,431.2 589.2,431.3 590.4,431.2 591.6,431.7 592.9,430.9 594.1,431.4 595.3,430.8 596.6,431.1 597.8,431.0 598.4,428.0 600.4,391.6 602.2,400.6 604.0,423.0 605.0,433.0 607.0,432.9 608.3,431.8 609.7,431.6 611.0,431.3 612.2,431.2 613.4,430.9 614.6,431.2 615.9,430.5 617.1,430.5 618.3,430.7 619.5,431.4 620.7,430.6 621.9,430.4 623.1,430.3 624.4,430.2 625.6,430.6 626.8,431.1 628.0,431.5 629.2,430.8 630.4,430.8 631.6,430.7 632.9,430.7 634.1,431.4 635.3,431.1 636.5,430.6 637.7,430.4 638.9,431.4 640.2,431.4 641.4,431.5 642.6,430.7 643.8,431.0 645.0,431.6 646.2,431.2 647.4,431.7 648.7,430.6 649.9,431.7 651.1,430.4 652.3,430.8 653.5,430.3 654.7,431.4 655.9,431.3 657.2,431.8 658.4,431.5 659.6,431.7 660.8,431.0" fill="none" stroke="#000" stroke-width="1.7" stroke-linejoin="round" stroke-linecap="round"/>
<polyline points="562.0,432.5 563.2,432.7 564.5,431.8 565.7,432.9 566.9,431.8 568.2,432.4 569.4,431.6 570.6,432.5 571.9,431.7 573.1,432.5 574.3,432.6 575.6,432.6 576.8,432.2 578.0,432.8 579.3,433.0 580.5,431.7 581.8,432.2 583.0,432.9 584.2,432.6 585.5,432.2 586.7,431.9 587.9,432.9 589.2,431.6 590.4,432.5 591.6,432.8 592.9,431.7 594.1,431.9 595.3,431.9 596.6,432.2 597.8,432.2 598.4,429.2 600.5,403.0 602.4,412.0 604.2,424.2 605.0,433.8 607.0,435.0 608.3,434.4 609.7,432.7 611.0,432.8 612.2,431.6 613.4,431.5 614.6,432.4 615.9,432.7 617.1,432.7 618.3,433.0 619.5,432.8 620.7,431.9 621.9,432.5 623.1,432.9 624.4,431.7 625.6,432.1 626.8,431.7 628.0,431.6 629.2,432.1 630.4,432.4 631.6,432.9 632.9,431.7 634.1,432.2 635.3,433.0 636.5,432.7 637.7,432.3 638.9,431.8 640.2,432.4 641.4,431.9 642.6,432.4 643.8,432.4 645.0,432.1 646.2,432.6 647.4,432.1 648.7,432.1 649.9,432.7 651.1,431.9 652.3,431.7 653.5,432.3 654.7,432.1 655.9,432.8 657.2,431.9 658.4,432.0 659.6,431.5 660.8,432.2" fill="none" stroke="#000" stroke-width="1.7" stroke-linejoin="round" stroke-linecap="round"/>
<polyline points="562.0,433.2 563.2,434.0 564.5,434.0 565.7,433.0 566.9,433.9 568.2,433.7 569.4,432.7 570.6,434.0 571.9,433.1 573.1,433.1 574.3,433.3 575.6,433.5 576.8,432.8 578.0,433.6 579.3,433.9 580.5,433.5 581.8,433.9 583.0,433.6 584.2,433.9 585.5,433.0 586.7,433.1 587.9,433.3 589.2,432.8 590.4,434.1 591.6,433.7 592.9,432.8 594.1,433.5 595.3,433.3 596.6,432.9 597.8,433.4 598.4,430.4 600.6,412.0 602.6,420.5 604.4,425.4 605.0,435.1 607.0,434.9 608.3,434.9 609.7,434.2 611.0,432.8 612.2,433.9 613.4,432.8 614.6,432.8 615.9,433.8 617.1,433.0 618.3,433.2 619.5,433.5 620.7,433.3 621.9,433.4 623.1,433.4 624.4,433.4 625.6,432.7 626.8,433.8 628.0,433.1 629.2,432.7 630.4,433.2 631.6,433.9 632.9,433.6 634.1,433.4 635.3,433.4 636.5,433.0 637.7,433.5 638.9,433.2 640.2,432.7 641.4,432.8 642.6,432.7 643.8,433.6 645.0,434.0 646.2,433.8 647.4,433.0 648.7,432.8 649.9,434.0 651.1,433.3 652.3,432.9 653.5,433.5 654.7,433.6 655.9,433.5 657.2,433.3 658.4,433.1 659.6,433.4 660.8,433.4" fill="none" stroke="#000" stroke-width="1.7" stroke-linejoin="round" stroke-linecap="round"/>
<polyline points="562.0,435.0 563.2,434.2 564.5,434.1 565.7,434.7 566.9,433.9 568.2,435.0 569.4,435.0 570.6,433.9 571.9,434.8 573.1,434.6 574.3,434.8 575.6,435.3 576.8,435.4 578.0,434.5 579.3,435.1 580.5,435.1 581.8,435.4 583.0,434.0 584.2,435.2 585.5,434.2 586.7,434.0 587.9,434.7 589.2,435.1 590.4,435.3 591.6,434.5 592.9,435.1 594.1,433.9 595.3,435.2 596.6,434.4 597.8,434.6 599.0,433.0 601.0,429.8 602.2,432.3 603.5,435.7 604.8,435.4 606.0,435.6 607.2,435.7 608.4,435.0 609.7,435.6 610.9,434.7 612.1,435.6 613.3,434.7 614.5,435.7 615.7,434.9 617.0,434.9 618.2,435.0 619.4,434.3 620.6,434.3 621.8,435.0 623.0,435.3 624.3,434.3 625.5,434.7 626.7,434.7 627.9,435.3 629.1,435.7 630.4,434.3 631.6,434.9 632.8,434.3 634.0,435.2 635.2,435.5 636.4,435.2 637.7,435.0 638.9,434.1 640.1,434.1 641.3,434.3 642.5,434.1 643.8,434.1 645.0,435.4 646.2,434.6 647.4,435.3 648.6,435.2 649.8,435.2 651.1,435.4 652.3,435.0 653.5,434.5 654.7,434.6 655.9,434.5 657.1,433.9 658.4,433.9 659.6,434.6 660.8,434.6" fill="none" stroke="#000" stroke-width="1.7" stroke-linejoin="round" stroke-linecap="round"/>
<polyline points="688.4,431.5 689.6,432.1 690.9,431.0 692.1,431.3 693.3,432.2 694.5,431.9 695.8,431.1 697.0,431.4 698.2,432.1 699.4,431.6 700.7,431.0 701.9,432.1 703.1,431.2 704.4,431.7 705.6,431.8 706.8,431.6 708.0,432.2 709.3,431.2 710.5,431.7 711.7,431.1 712.9,432.2 714.2,431.2 715.4,431.6 716.2,428.6 717.6,377.8 719.0,327.0 720.2,339.4 721.4,351.9 722.6,364.4 723.8,376.8 725.0,389.2 726.2,401.7 727.4,414.2 728.6,427.0 729.9,427.9 731.1,427.5 732.4,429.2 733.6,429.9 734.9,429.4 736.2,430.2 737.5,429.8 738.7,429.8 740.0,430.0 741.3,430.5 742.6,431.4 743.8,431.0 745.0,431.7 746.2,431.7 747.5,430.8 748.7,431.0 749.9,430.5 751.1,431.2 752.3,431.3 753.5,431.3 754.7,430.7 756.0,431.3 757.2,430.7 758.4,431.7 759.6,431.3 760.8,430.8 762.0,431.9 763.2,432.0 764.4,431.2 765.7,431.9 766.9,431.2 768.1,431.5 769.3,431.6 770.5,431.9 771.7,431.0 772.9,430.8 774.2,431.0 775.4,431.4 776.6,432.0 777.8,431.6" fill="none" stroke="#ff0000" stroke-width="2.0" stroke-linejoin="round" stroke-linecap="round"/>
<polyline points="688.4,431.4 689.6,431.2 690.9,431.1 692.1,432.1 693.3,431.8 694.5,431.9 695.8,431.7 697.0,431.5 698.2,431.9 699.4,431.7 700.7,432.0 701.9,431.9 703.1,432.1 704.4,431.6 705.6,431.1 706.8,431.1 708.0,431.8 709.3,431.2 710.5,431.8 711.7,431.8 712.9,431.0 714.2,431.9 715.4,431.0 716.2,428.6 717.5,374.6 718.9,382.0 720.2,389.5 721.6,396.9 722.9,404.3 724.3,411.7 725.6,419.2 727.0,427.1 728.2,427.8 729.5,427.7 730.8,429.0 732.0,429.7 733.3,429.2 734.6,430.0 735.9,429.6 737.1,430.8 738.4,430.8 739.7,431.4 741.0,430.5 742.2,430.7 743.5,431.2 744.7,431.2 745.9,430.7 747.1,431.6 748.4,431.6 749.6,430.9 750.8,430.7 752.0,431.4 753.3,431.1 754.5,431.4 755.7,431.3 756.9,431.1 758.2,430.6 759.4,430.7 760.6,431.2 761.9,431.6 763.1,431.3 764.3,431.7 765.5,431.5 766.8,431.9 768.0,431.7 769.2,431.2 770.4,431.0 771.7,430.9 772.9,430.8 774.1,432.0 775.3,432.1 776.6,432.0 777.8,431.6" fill="none" stroke="#ff0000" stroke-width="2.0" stroke-linejoin="round" stroke-linecap="round"/>
<polyline points="688.4,431.8 689.6,431.0 690.9,431.2 692.1,431.2 693.3,431.9 694.5,431.9 695.8,432.1 697.0,431.1 698.2,431.4 699.4,431.0 700.7,431.2 701.9,431.6 703.1,431.0 704.4,431.1 705.6,431.8 706.8,431.7 708.0,431.2 709.3,431.7 710.5,432.0 711.7,431.0 712.9,431.9 714.2,431.9 715.4,431.4 716.2,428.6 718.6,413.3 719.9,416.2 721.1,417.3 722.4,418.7 723.7,420.5 725.0,423.3 726.2,424.9 727.5,427.0 728.8,427.6 730.0,428.1 731.2,429.3 732.5,429.3 733.8,429.7 735.1,430.3 736.4,430.3 737.6,430.8 738.9,430.7 740.2,431.1 741.5,430.4 742.7,430.6 743.9,430.7 745.1,430.5 746.3,430.7 747.5,430.5 748.8,430.8 750.0,431.3 751.2,431.0 752.4,431.0 753.6,430.8 754.8,430.9 756.0,431.8 757.2,431.5 758.4,431.5 759.6,430.9 760.9,431.6 762.1,430.9 763.3,431.2 764.5,432.0 765.7,431.6 766.9,431.5 768.1,431.7 769.3,431.9 770.5,431.9 771.8,431.2 773.0,430.9 774.2,431.2 775.4,431.2 776.6,431.2 777.8,431.6" fill="none" stroke="#ff0000" stroke-width="1.6" stroke-linejoin="round" stroke-linecap="round"/>
<polyline points="688.4,431.0 689.6,431.8 690.9,431.1 692.1,431.5 693.3,431.8 694.5,432.0 695.8,431.6 697.0,431.6 698.2,431.0 699.4,431.4 700.7,431.4 701.9,432.1 703.1,431.7 704.4,432.0 705.6,431.5 706.8,431.2 708.0,432.0 709.3,432.1 710.5,431.5 711.7,431.1 712.9,431.6 714.2,431.6 715.4,432.0 716.2,428.6 718.6,418.0 719.9,419.2 721.3,420.5 722.6,421.5 724.0,422.3 725.3,423.5 726.7,425.9 728.0,427.1 729.2,427.1 730.5,428.5 731.8,428.8 733.0,428.9 734.3,430.0 735.6,430.0 736.9,430.7 738.1,430.6 739.4,430.0 740.7,430.9 742.0,431.4 743.2,431.6 744.5,430.9 745.7,431.1 746.9,431.4 748.2,430.7 749.4,431.5 750.6,431.6 751.9,430.6 753.1,431.3 754.3,431.0 755.6,430.8 756.8,431.3 758.0,431.9 759.3,431.4 760.5,430.8 761.8,431.3 763.0,431.7 764.2,432.0 765.5,431.7 766.7,430.8 767.9,432.0 769.2,431.6 770.4,430.9 771.6,430.9 772.9,430.9 774.1,431.7 775.3,431.1 776.6,431.9 777.8,431.6" fill="none" stroke="#ff0000" stroke-width="1.6" stroke-linejoin="round" stroke-linecap="round"/>
<polyline points="688.4,431.5 689.6,431.6 690.9,432.1 692.1,431.2 693.3,431.2 694.5,430.9 695.8,431.0 697.0,430.9 698.2,431.1 699.4,431.6 700.7,432.2 701.9,431.9 703.1,431.5 704.4,431.5 705.6,431.8 706.8,431.4 708.0,431.0 709.3,432.0 710.5,431.8 711.7,431.1 712.9,431.0 714.2,431.0 715.4,432.2 716.2,428.1 717.5,425.1 718.8,421.9 720.0,421.4 721.2,422.4 722.4,423.2 723.6,424.5 724.9,424.3 726.1,424.9 727.3,425.6 728.5,426.0 729.8,427.5 731.0,428.4 732.2,428.7 733.5,428.8 734.8,429.9 736.1,430.2 737.4,430.3 738.6,430.1 739.9,431.0 741.2,431.0 742.5,431.1 743.7,431.1 744.9,430.7 746.2,431.0 747.4,431.5 748.6,431.4 749.8,430.9 751.0,431.6 752.2,431.7 753.5,430.6 754.7,430.7 755.9,430.8 757.1,430.6 758.3,431.5 759.5,431.5 760.8,431.4 762.0,432.0 763.2,431.2 764.4,431.0 765.6,430.8 766.8,431.1 768.1,431.9 769.3,431.6 770.5,430.9 771.7,431.4 772.9,430.9 774.1,431.6 775.4,431.1 776.6,431.1 777.8,431.6" fill="none" stroke="#ff0000" stroke-width="1.6" stroke-linejoin="round" stroke-linecap="round"/>
<polyline points="688.4,431.3 689.6,431.6 690.9,431.0 692.1,431.3 693.3,431.0 694.5,430.9 695.8,431.2 697.0,431.1 698.2,431.3 699.4,431.9 700.7,431.0 701.9,431.7 703.1,431.1 704.4,431.9 705.6,431.9 706.8,431.3 708.0,432.0 709.3,431.9 710.5,431.1 711.7,431.4 712.9,431.8 714.2,432.2 715.4,431.2 716.2,428.2 717.5,426.7 718.8,424.8 720.1,424.0 721.3,424.2 722.6,425.4 723.9,425.2 725.2,425.5 726.5,426.5 727.7,426.7 729.0,426.9 730.2,427.8 731.5,428.4 732.8,429.1 734.0,429.6 735.3,429.8 736.6,429.3 737.9,430.6 739.1,430.9 740.4,430.4 741.7,430.9 743.0,430.4 744.2,431.0 745.5,431.2 746.7,430.8 748.0,430.9 749.2,431.5 750.5,430.7 751.7,431.0 752.9,430.6 754.2,431.0 755.4,431.7 756.7,431.4 757.9,430.7 759.2,431.7 760.4,431.6 761.6,431.4 762.9,431.1 764.1,431.1 765.4,430.9 766.6,431.5 767.9,430.8 769.1,432.0 770.3,431.0 771.6,431.6 772.8,431.6 774.1,431.4 775.3,431.2 776.6,431.5 777.8,431.6" fill="none" stroke="#ff0000" stroke-width="1.6" stroke-linejoin="round" stroke-linecap="round"/>
<polyline points="688.4,431.6 689.4,431.3 690.4,431.7 691.4,431.3 692.4,431.5 693.4,432.1 694.4,431.2 695.4,431.3 696.4,431.8 697.4,431.1 698.4,431.2 699.4,431.9 700.5,432.2 701.5,431.5 702.5,431.2 703.5,432.1 704.5,431.5 705.5,431.7 706.5,431.7 707.5,431.8 708.5,432.1 709.5,432.2 710.5,431.9 711.5,432.0 712.5,432.0 713.5,431.8 714.5,431.5 715.5,431.3 716.5,431.3 717.5,432.1 718.5,431.9 719.5,431.2 720.5,432.0 721.5,431.4 722.6,431.8 723.6,431.6 724.6,431.3 725.6,431.2 726.6,431.7 727.6,431.5 728.6,431.7 729.6,431.8 730.6,432.0 731.6,432.0 732.6,431.8 733.6,432.2 734.6,431.7 735.6,432.0 736.6,432.0 737.6,432.0 738.6,431.2 739.6,431.6 740.6,431.6 741.6,431.1 742.6,431.4 743.6,431.6 744.7,431.0 745.7,431.0 746.7,431.6 747.7,431.5 748.7,432.1 749.7,432.1 750.7,432.0 751.7,432.0 752.7,431.3 753.7,431.8 754.7,431.2 755.7,431.1 756.7,431.4 757.7,431.3 758.7,431.0 759.7,431.6 760.7,432.1 761.7,431.2 762.7,431.3 763.7,432.1 764.7,431.7 765.7,431.6 766.8,431.5 767.8,432.0 768.8,431.6 769.8,431.5 770.8,431.4 771.8,431.9 772.8,431.1 773.8,431.5 774.8,431.7 775.8,431.1 776.8,431.3 777.8,431.6" fill="none" stroke="#ff0000" stroke-width="3.2" stroke-linejoin="round" stroke-linecap="round"/>
<text x="2.2" y="512.6" font-size="30.3" font-weight="bold" stroke="#000" stroke-width="0.3">d</text>
<line x1="104.8" y1="547.7" x2="104.8" y2="697.3" stroke="#000" stroke-width="2.4" stroke-linecap="butt"/>
<line x1="95.2" y1="548.9" x2="106.0" y2="548.9" stroke="#000" stroke-width="2.4" stroke-linecap="butt"/>
<line x1="95.2" y1="598.0" x2="106.0" y2="598.0" stroke="#000" stroke-width="2.4" stroke-linecap="butt"/>
<line x1="95.2" y1="647.0" x2="106.0" y2="647.0" stroke="#000" stroke-width="2.4" stroke-linecap="butt"/>
<line x1="95.2" y1="696.1" x2="106.0" y2="696.1" stroke="#000" stroke-width="2.4" stroke-linecap="butt"/>
<text x="88.2" y="555.9" font-size="20.5" text-anchor="end" stroke="#000" stroke-width="0.3">300</text>
<text x="88.2" y="605.0" font-size="20.5" text-anchor="end" stroke="#000" stroke-width="0.3">200</text>
<text x="88.2" y="654.0" font-size="20.5" text-anchor="end" stroke="#000" stroke-width="0.3">100</text>
<text x="88.2" y="703.1" font-size="20.5" text-anchor="end" stroke="#000" stroke-width="0.3">0</text>
<text transform="translate(42.4,622.6) rotate(-90)" font-size="20.5" text-anchor="middle" stroke="#000" stroke-width="0.3">ΔCa<tspan font-size="13.5" dy="-7.5">2+</tspan><tspan dy="11.3" font-size="19">i</tspan><tspan dy="-3.8" font-size="20.5"> (nM)</tspan></text>
<rect x="114.3" y="586.8" width="29.7" height="109.2" fill="#fff" stroke="#000" stroke-width="2.4"/>
<rect x="149.9" y="680.5" width="31.6" height="15.5" fill="#000" stroke="#000" stroke-width="2.4"/>
<rect x="187.5" y="630.8" width="30.2" height="65.2" fill="#fff" stroke="#000" stroke-width="2.4"/>
<rect x="223.6" y="681.7" width="31.4" height="14.3" fill="#000" stroke="#000" stroke-width="2.4"/>
<line x1="129.2" y1="566.6" x2="129.2" y2="586.6" stroke="#000" stroke-width="1.5" stroke-linecap="butt"/>
<line x1="125.0" y1="566.6" x2="133.4" y2="566.6" stroke="#000" stroke-width="1.5" stroke-linecap="butt"/>
<line x1="165.7" y1="678.0" x2="165.7" y2="680.3" stroke="#000" stroke-width="1.5" stroke-linecap="butt"/>
<line x1="161.7" y1="678.0" x2="169.7" y2="678.0" stroke="#000" stroke-width="1.5" stroke-linecap="butt"/>
<line x1="202.7" y1="625.8" x2="202.7" y2="630.6" stroke="#000" stroke-width="1.5" stroke-linecap="butt"/>
<line x1="198.5" y1="625.8" x2="206.9" y2="625.8" stroke="#000" stroke-width="1.5" stroke-linecap="butt"/>
<line x1="239.3" y1="679.3" x2="239.3" y2="681.5" stroke="#000" stroke-width="1.5" stroke-linecap="butt"/>
<line x1="235.3" y1="679.3" x2="243.3" y2="679.3" stroke="#000" stroke-width="1.5" stroke-linecap="butt"/>
<text x="196.8" y="615.6" font-size="22" stroke="#000" stroke-width="0.3">#</text>
<text x="190.8" y="526.8" font-size="19.6" stroke="#000" stroke-width="0.3" textLength="60.5" lengthAdjust="spacingAndGlyphs">(53/58)</text>
<rect x="183.9" y="536.4" width="69.5" height="19.5" fill="#fff" stroke="#000" stroke-width="1.5"/>
<text x="218.8" y="551.6" font-size="20.5" text-anchor="middle" stroke="#000" stroke-width="0.3">peak</text>
<rect x="183.2" y="557.1" width="70.9" height="22.6" fill="#000"/>
<text x="219.0" y="574.7" font-size="20.5" text-anchor="middle" fill="#fff" stroke="#fff" stroke-width="0.3">plateau</text>
<path d="M113.0,699.6 C114.0,705.1 118.0,705.4 127.0,705.4 L133.7,705.4 C142.7,705.4 147.2,707.1 148.7,710.4 C150.2,707.1 154.7,705.4 163.7,705.4 L170.6,705.4 C179.6,705.4 183.6,705.1 184.6,699.6" fill="none" stroke="#000" stroke-width="3.4" stroke-linecap="round" stroke-linejoin="round"/>
<path d="M187.4,699.6 C188.4,705.1 192.4,705.4 201.4,705.4 L207.9,705.4 C216.9,705.4 221.4,707.1 222.9,710.4 C224.4,707.1 228.9,705.4 237.9,705.4 L244.2,705.4 C253.2,705.4 257.2,705.1 258.2,699.6" fill="none" stroke="#000" stroke-width="3.4" stroke-linecap="round" stroke-linejoin="round"/>
<text x="146.8" y="733.9" font-size="25.5" text-anchor="middle" font-weight="bold" stroke="#000" stroke-width="0.3">+/+</text>
<text x="215.9" y="733.9" font-size="25.5" text-anchor="middle" font-weight="bold" fill="#ff0000" stroke="#ff0000" stroke-width="0.3" textLength="25.6" lengthAdjust="spacingAndGlyphs">-/-</text>
<text x="269.8" y="508.3" font-size="30.3" font-weight="bold" stroke="#000" stroke-width="0.3">f</text>
<line x1="345.2" y1="548.4" x2="345.2" y2="698.4" stroke="#000" stroke-width="2.4" stroke-linecap="butt"/>
<line x1="335.6" y1="549.6" x2="346.4" y2="549.6" stroke="#000" stroke-width="2.4" stroke-linecap="butt"/>
<line x1="335.6" y1="586.5" x2="346.4" y2="586.5" stroke="#000" stroke-width="2.4" stroke-linecap="butt"/>
<line x1="335.6" y1="623.4" x2="346.4" y2="623.4" stroke="#000" stroke-width="2.4" stroke-linecap="butt"/>
<line x1="335.6" y1="660.3" x2="346.4" y2="660.3" stroke="#000" stroke-width="2.4" stroke-linecap="butt"/>
<line x1="335.6" y1="697.2" x2="346.4" y2="697.2" stroke="#000" stroke-width="2.4" stroke-linecap="butt"/>
<text x="328.4" y="556.6" font-size="20.5" text-anchor="end" stroke="#000" stroke-width="0.3">800</text>
<text x="328.4" y="593.5" font-size="20.5" text-anchor="end" stroke="#000" stroke-width="0.3">600</text>
<text x="328.4" y="630.4" font-size="20.5" text-anchor="end" stroke="#000" stroke-width="0.3">400</text>
<text x="328.4" y="667.3" font-size="20.5" text-anchor="end" stroke="#000" stroke-width="0.3">200</text>
<text x="328.4" y="704.2" font-size="20.5" text-anchor="end" stroke="#000" stroke-width="0.3">0</text>
<text transform="translate(283.8,623.0) rotate(-90)" font-size="20.5" text-anchor="middle" stroke="#000" stroke-width="0.3">ΔCa<tspan font-size="13.5" dy="-7.5">2+</tspan><tspan dy="11.3" font-size="19">i</tspan><tspan dy="-3.8" font-size="20.5"> (nM)</tspan></text>
<rect x="353.6" y="578.3" width="30.1" height="118.8" fill="#fff" stroke="#000" stroke-width="2.4"/>
<rect x="389.5" y="646.0" width="31.3" height="51.1" fill="#000" stroke="#000" stroke-width="2.4"/>
<rect x="427.3" y="616.5" width="29.9" height="80.6" fill="#fff" stroke="#000" stroke-width="2.4"/>
<rect x="463.6" y="662.2" width="30.9" height="34.9" fill="#000" stroke="#000" stroke-width="2.4"/>
<line x1="368.6" y1="570.7" x2="368.6" y2="578.1" stroke="#000" stroke-width="1.5" stroke-linecap="butt"/>
<line x1="364.6" y1="570.7" x2="372.6" y2="570.7" stroke="#000" stroke-width="1.5" stroke-linecap="butt"/>
<line x1="405.3" y1="642.4" x2="405.3" y2="645.8" stroke="#000" stroke-width="1.5" stroke-linecap="butt"/>
<line x1="401.3" y1="642.4" x2="409.3" y2="642.4" stroke="#000" stroke-width="1.5" stroke-linecap="butt"/>
<line x1="442.2" y1="612.7" x2="442.2" y2="616.3" stroke="#000" stroke-width="1.5" stroke-linecap="butt"/>
<line x1="438.2" y1="612.7" x2="446.2" y2="612.7" stroke="#000" stroke-width="1.5" stroke-linecap="butt"/>
<line x1="479.0" y1="659.3" x2="479.0" y2="662.0" stroke="#000" stroke-width="1.5" stroke-linecap="butt"/>
<line x1="475.0" y1="659.3" x2="483.0" y2="659.3" stroke="#000" stroke-width="1.5" stroke-linecap="butt"/>
<text x="436.2" y="605.0" font-size="22" stroke="#000" stroke-width="0.3">#</text>
<text x="473.4" y="652.0" font-size="22" stroke="#000" stroke-width="0.3">#</text>
<text x="411.8" y="528.7" font-size="19.6" stroke="#000" stroke-width="0.3" textLength="81.5" lengthAdjust="spacingAndGlyphs">(114/120)</text>
<rect x="419.2" y="536.9" width="68.0" height="19.2" fill="#fff" stroke="#000" stroke-width="1.5"/>
<text x="453.4" y="552.3" font-size="20.5" text-anchor="middle" stroke="#000" stroke-width="0.3">peak</text>
<rect x="418.5" y="557.6" width="69.4" height="23.0" fill="#000"/>
<text x="453.5" y="575.4" font-size="20.5" text-anchor="middle" fill="#fff" stroke="#fff" stroke-width="0.3">plateau</text>
<path d="M352.0,701.0 C353.0,706.5 357.0,706.8 366.0,706.8 L373.7,706.8 C382.7,706.8 387.2,708.5 388.7,711.8 C390.2,708.5 394.7,706.8 403.7,706.8 L410.0,706.8 C419.0,706.8 423.0,706.5 424.0,701.0" fill="none" stroke="#000" stroke-width="3.4" stroke-linecap="round" stroke-linejoin="round"/>
<path d="M426.8,701.0 C427.8,706.5 431.8,706.8 440.8,706.8 L447.4,706.8 C456.4,706.8 460.9,708.5 462.4,711.8 C463.9,708.5 468.4,706.8 477.4,706.8 L483.0,706.8 C492.0,706.8 496.0,706.5 497.0,701.0" fill="none" stroke="#000" stroke-width="3.4" stroke-linecap="round" stroke-linejoin="round"/>
<text x="383.5" y="735.4" font-size="22.2" text-anchor="middle" stroke="#000" stroke-width="0.3">scrbld</text>
<text x="459.6" y="735.4" font-size="22.2" text-anchor="middle" fill="#ff0000" stroke="#ff0000" stroke-width="0.3">si16A</text>
<text x="512.5" y="506.9" font-size="30.3" font-weight="bold" stroke="#000" stroke-width="0.3">h</text>
<line x1="584.6" y1="548.7" x2="584.6" y2="698.9" stroke="#000" stroke-width="2.4" stroke-linecap="butt"/>
<line x1="574.8" y1="549.9" x2="585.8" y2="549.9" stroke="#000" stroke-width="2.4" stroke-linecap="butt"/>
<line x1="574.8" y1="579.4" x2="585.8" y2="579.4" stroke="#000" stroke-width="2.4" stroke-linecap="butt"/>
<line x1="574.8" y1="609.0" x2="585.8" y2="609.0" stroke="#000" stroke-width="2.4" stroke-linecap="butt"/>
<line x1="574.8" y1="638.5" x2="585.8" y2="638.5" stroke="#000" stroke-width="2.4" stroke-linecap="butt"/>
<line x1="574.8" y1="668.1" x2="585.8" y2="668.1" stroke="#000" stroke-width="2.4" stroke-linecap="butt"/>
<line x1="574.8" y1="697.6" x2="585.8" y2="697.6" stroke="#000" stroke-width="2.4" stroke-linecap="butt"/>
<text x="567.0" y="556.9" font-size="20.5" text-anchor="end" stroke="#000" stroke-width="0.3">2,5</text>
<text x="567.0" y="586.4" font-size="20.5" text-anchor="end" stroke="#000" stroke-width="0.3">2</text>
<text x="567.0" y="616.0" font-size="20.5" text-anchor="end" stroke="#000" stroke-width="0.3">1,5</text>
<text x="567.0" y="645.5" font-size="20.5" text-anchor="end" stroke="#000" stroke-width="0.3">1</text>
<text x="567.0" y="675.1" font-size="20.5" text-anchor="end" stroke="#000" stroke-width="0.3">0,5</text>
<text x="567.0" y="704.6" font-size="20.5" text-anchor="end" stroke="#000" stroke-width="0.3">0</text>
<text transform="translate(531.6,625.0) rotate(-90)" font-size="20.4" text-anchor="middle" stroke="#000" stroke-width="0.3">ΔRatio (485/405)</text>
<rect x="589.5" y="644.5" width="35.2" height="53.0" fill="#fff" stroke="#000" stroke-width="2.4"/>
<rect x="631.9" y="624.9" width="36.0" height="72.6" fill="#000" stroke="#000" stroke-width="2.4"/>
<rect x="674.7" y="602.1" width="36.0" height="95.4" fill="#fff" stroke="#000" stroke-width="2.4"/>
<rect x="718.0" y="568.0" width="36.5" height="129.5" fill="#000" stroke="#000" stroke-width="2.4"/>
<line x1="607.5" y1="640.9" x2="607.5" y2="644.3" stroke="#000" stroke-width="1.5" stroke-linecap="butt"/>
<line x1="603.1" y1="640.9" x2="611.9" y2="640.9" stroke="#000" stroke-width="1.5" stroke-linecap="butt"/>
<line x1="650.0" y1="620.5" x2="650.0" y2="624.7" stroke="#000" stroke-width="1.5" stroke-linecap="butt"/>
<line x1="645.4" y1="620.5" x2="654.6" y2="620.5" stroke="#000" stroke-width="1.5" stroke-linecap="butt"/>
<line x1="693.3" y1="584.9" x2="693.3" y2="601.9" stroke="#000" stroke-width="1.5" stroke-linecap="butt"/>
<line x1="688.5" y1="584.9" x2="698.1" y2="584.9" stroke="#000" stroke-width="1.5" stroke-linecap="butt"/>
<line x1="736.4" y1="550.7" x2="736.4" y2="567.8" stroke="#000" stroke-width="1.5" stroke-linecap="butt"/>
<line x1="731.6" y1="550.7" x2="741.2" y2="550.7" stroke="#000" stroke-width="1.5" stroke-linecap="butt"/>
<text transform="translate(642.92,621.94) scale(1.009,0.811)" font-size="36.0" font-weight="bold" stroke="#000" stroke-width="0.5">*</text>
<text transform="translate(729.32,556.14) scale(1.009,0.811)" font-size="36.0" font-weight="bold" stroke="#000" stroke-width="0.5">*</text>
<text x="688.0" y="579.0" font-size="23" stroke="#000" stroke-width="0.3">#</text>
<text x="729.4" y="524.4" font-size="23" stroke="#000" stroke-width="0.3">#</text>
<text x="603.6" y="573.0" font-size="17" stroke="#000" stroke-width="0.3">(27-41)</text>
<text transform="translate(613.0,672.0) rotate(-90)" font-size="20.5" text-anchor="middle" stroke="#000" stroke-width="0.3">con</text>
<text transform="translate(702.0,671.0) rotate(-90)" font-size="20.5" text-anchor="middle" stroke="#000" stroke-width="0.3">con</text>
<text transform="translate(659.7,662.6) rotate(-90)" font-size="20" text-anchor="middle" font-weight="bold" fill="#fff" stroke="#fff" stroke-width="0.3">cAMP</text>
<text transform="translate(745.5,662.8) rotate(-90)" font-size="20" text-anchor="middle" font-weight="bold" fill="#fff" stroke="#fff" stroke-width="0.3">cAMP</text>
<path d="M589.2,703.8 C590.2,709.3 594.2,709.6 603.2,709.6 L614.5,709.6 C623.5,709.6 628.0,711.3 629.5,713.4 C631.0,711.3 635.5,709.6 644.5,709.6 L654.6,709.6 C663.6,709.6 667.6,709.3 668.6,703.8" fill="none" stroke="#000" stroke-width="3.4" stroke-linecap="round" stroke-linejoin="round"/>
<path d="M674.6,703.8 C675.6,709.3 679.6,709.6 688.6,709.6 L699.8,709.6 C708.8,709.6 713.3,711.3 714.8,713.4 C716.3,711.3 720.8,709.6 729.8,709.6 L740.0,709.6 C749.0,709.6 753.0,709.3 754.0,703.8" fill="none" stroke="#000" stroke-width="3.4" stroke-linecap="round" stroke-linejoin="round"/>
<text x="615.9" y="731.3" font-size="20.8" text-anchor="middle" stroke="#000" stroke-width="0.3">CFTR</text>
<text x="708.6" y="731.3" font-size="20.8" text-anchor="middle" fill="#ff0000" stroke="#ff0000" stroke-width="0.3">CFTR/16A</text>
<text x="12.4" y="775.4" font-size="30.3" font-weight="bold" stroke="#000" stroke-width="0.3">i</text>
<text x="43.4" y="848.4" font-size="19.5" stroke="#000" stroke-width="0.3">kDa</text>
<defs><filter id="bl" x="-20%" y="-60%" width="140%" height="220%"><feGaussianBlur stdDeviation="1.9"/></filter><filter id="bl2" x="-40%" y="-40%" width="180%" height="180%"><feGaussianBlur stdDeviation="4"/></filter><filter id="bl3" x="-10%" y="-40%" width="120%" height="180%"><feGaussianBlur stdDeviation="0.9"/></filter><clipPath id="cb"><rect x="84" y="861.6" width="104" height="124"/></clipPath></defs>
<rect x="84.0" y="861.6" width="104.0" height="87.0" fill="#8c8c8c"/>
<rect x="84.0" y="948.6" width="104.0" height="37.2" fill="#969696"/>
<g clip-path="url(#cb)">
<ellipse cx="106" cy="938" rx="14" ry="9" fill="#6e6e6e" filter="url(#bl2)"/>
<ellipse cx="180" cy="906.5" rx="6" ry="8" fill="#666" filter="url(#bl2)"/>
<ellipse cx="150" cy="886" rx="22" ry="4" fill="#808080" filter="url(#bl2)"/>
<path d="M95,884.5 Q112,883 126,884 Q130.5,885 130,888 Q128,891.5 118,891 Q104,891 95,890 Z" fill="#454545" filter="url(#bl)"/>
<ellipse cx="121" cy="887.3" rx="8" ry="3" fill="#303030" filter="url(#bl)"/>
<path d="M93.5,971 Q95,966.5 112,966.4 Q128,966.6 136,969 Q146,967 160,967.2 Q178,967.4 180.5,971.6 Q179,976.4 160,976.4 Q146,976.4 136,974.8 Q126,977.4 110,977.2 Q95,977 93.5,971 Z" fill="#000" filter="url(#bl3)"/>
</g>
<rect x="84.0" y="861.6" width="103.8" height="124.6" fill="none" stroke="#000" stroke-width="2.0"/>
<line x1="83.2" y1="948.6" x2="188.8" y2="948.6" stroke="#000" stroke-width="2.0" stroke-linecap="butt"/>
<text x="71.4" y="882.0" font-size="18.4" text-anchor="end" stroke="#000" stroke-width="0.3">130</text>
<line x1="72.8" y1="875.4" x2="84.0" y2="875.4" stroke="#000" stroke-width="1.6" stroke-linecap="butt"/>
<text x="71.4" y="907.5" font-size="18.4" text-anchor="end" stroke="#000" stroke-width="0.3">100</text>
<line x1="72.8" y1="900.9" x2="84.0" y2="900.9" stroke="#000" stroke-width="1.6" stroke-linecap="butt"/>
<text x="71.4" y="962.2" font-size="18.4" text-anchor="end" stroke="#000" stroke-width="0.3">55</text>
<line x1="72.8" y1="955.6" x2="84.0" y2="955.6" stroke="#000" stroke-width="1.6" stroke-linecap="butt"/>
<text x="71.4" y="991.7" font-size="18.4" text-anchor="end" stroke="#000" stroke-width="0.3">35</text>
<line x1="72.8" y1="985.1" x2="84.0" y2="985.1" stroke="#000" stroke-width="1.6" stroke-linecap="butt"/>
<text transform="translate(113.0,859.6) rotate(-45)" font-size="20.8" stroke="#000" stroke-width="0.3">Scrbld</text>
<text transform="translate(157.8,857.8) rotate(-45)" font-size="20.8" stroke="#000" stroke-width="0.3">si16A</text>
<path d="M191.8,885.2 L202.4,879.4000000000001 L202.4,891.0 Z" fill="#000"/>
<path d="M192.4,971.4 L202.8,965.4 L202.8,977.4 Z" fill="#000"/>
<text x="206.0" y="890.8" font-size="19" stroke="#000" stroke-width="0.3">16A</text>
<text x="205.6" y="977.0" font-size="19" stroke="#000" stroke-width="0.3">Actin</text>
<text x="274.5" y="772.6" font-size="30.3" font-weight="bold" stroke="#000" stroke-width="0.3">j</text>
<text x="384.4" y="773.4" font-size="19" stroke="#000" stroke-width="0.3">(7-11)</text>
<line x1="372.4" y1="783.7" x2="372.4" y2="949.3" stroke="#000" stroke-width="2.4" stroke-linecap="butt"/>
<line x1="356.2" y1="784.9" x2="373.6" y2="784.9" stroke="#000" stroke-width="2.4" stroke-linecap="butt"/>
<line x1="356.2" y1="817.5" x2="373.6" y2="817.5" stroke="#000" stroke-width="2.4" stroke-linecap="butt"/>
<line x1="356.2" y1="850.2" x2="373.6" y2="850.2" stroke="#000" stroke-width="2.4" stroke-linecap="butt"/>
<line x1="356.2" y1="882.8" x2="373.6" y2="882.8" stroke="#000" stroke-width="2.4" stroke-linecap="butt"/>
<line x1="356.2" y1="915.5" x2="373.6" y2="915.5" stroke="#000" stroke-width="2.4" stroke-linecap="butt"/>
<line x1="356.2" y1="948.1" x2="373.6" y2="948.1" stroke="#000" stroke-width="2.4" stroke-linecap="butt"/>
<text x="349.6" y="791.7" font-size="19.5" text-anchor="end" stroke="#000" stroke-width="0.3">100</text>
<text x="349.6" y="824.3" font-size="19.5" text-anchor="end" stroke="#000" stroke-width="0.3">80</text>
<text x="349.6" y="857.0" font-size="19.5" text-anchor="end" stroke="#000" stroke-width="0.3">60</text>
<text x="349.6" y="889.6" font-size="19.5" text-anchor="end" stroke="#000" stroke-width="0.3">40</text>
<text x="349.6" y="922.3" font-size="19.5" text-anchor="end" stroke="#000" stroke-width="0.3">20</text>
<text x="349.6" y="954.9" font-size="19.5" text-anchor="end" stroke="#000" stroke-width="0.3">0</text>
<rect x="379.0" y="830.8" width="27.0" height="117.2" fill="#000" stroke="#000" stroke-width="2.4"/>
<rect x="410.3" y="819.3" width="26.5" height="128.7" fill="#000" stroke="#000" stroke-width="2.4"/>
<line x1="392.5" y1="816.2" x2="392.5" y2="830.6" stroke="#000" stroke-width="1.5" stroke-linecap="butt"/>
<line x1="385.7" y1="816.2" x2="399.3" y2="816.2" stroke="#000" stroke-width="1.5" stroke-linecap="butt"/>
<line x1="423.3" y1="805.0" x2="423.3" y2="819.1" stroke="#000" stroke-width="1.5" stroke-linecap="butt"/>
<line x1="416.5" y1="805.0" x2="430.1" y2="805.0" stroke="#000" stroke-width="1.5" stroke-linecap="butt"/>
<text x="386.8" y="810.0" font-size="21" stroke="#000" stroke-width="0.3">#</text>
<text x="419.8" y="800.0" font-size="21" stroke="#000" stroke-width="0.3">#</text>
<text transform="translate(302.2,959.3) rotate(-90)" font-size="20.7" stroke="#000" stroke-width="0.3">Inhibition-I<tspan font-size="20" dy="5.2">ATP</tspan></text>
<text transform="translate(302.4,805.3) rotate(-90)" font-size="20.5" stroke="#000" stroke-width="0.3">(%)</text>
<text transform="translate(398.5,961.5) rotate(-45)" font-size="19.5" text-anchor="end" stroke="#000" stroke-width="0.3">ST034307</text>
<text transform="translate(433.5,961.5) rotate(-45)" font-size="19.5" text-anchor="end" stroke="#000" stroke-width="0.3">KH7</text>
<text x="501.5" y="773.6" font-size="30.3" font-weight="bold" stroke="#000" stroke-width="0.3">k</text>
<rect x="596.6" y="749.6" width="151.2" height="27.0" fill="#000"/>
<text x="671.3" y="772.6" font-size="23" text-anchor="middle" font-weight="bold" fill="#fff" stroke="#fff" stroke-width="0.3" textLength="48.5" lengthAdjust="spacingAndGlyphs">ATP</text>
<line x1="554.2" y1="790.3" x2="554.2" y2="946.9" stroke="#000" stroke-width="2.4" stroke-linecap="butt"/>
<line x1="544.8" y1="791.5" x2="555.4" y2="791.5" stroke="#000" stroke-width="2.4" stroke-linecap="butt"/>
<line x1="544.8" y1="822.3" x2="555.4" y2="822.3" stroke="#000" stroke-width="2.4" stroke-linecap="butt"/>
<line x1="544.8" y1="853.2" x2="555.4" y2="853.2" stroke="#000" stroke-width="2.4" stroke-linecap="butt"/>
<line x1="544.8" y1="884.0" x2="555.4" y2="884.0" stroke="#000" stroke-width="2.4" stroke-linecap="butt"/>
<line x1="544.8" y1="914.9" x2="555.4" y2="914.9" stroke="#000" stroke-width="2.4" stroke-linecap="butt"/>
<line x1="544.8" y1="945.7" x2="555.4" y2="945.7" stroke="#000" stroke-width="2.4" stroke-linecap="butt"/>
<text x="537.4" y="798.1" font-size="18.6" text-anchor="end" stroke="#000" stroke-width="0.3">100</text>
<text x="537.4" y="828.9" font-size="18.6" text-anchor="end" stroke="#000" stroke-width="0.3">80</text>
<text x="537.4" y="859.8" font-size="18.6" text-anchor="end" stroke="#000" stroke-width="0.3">60</text>
<text x="537.4" y="890.6" font-size="18.6" text-anchor="end" stroke="#000" stroke-width="0.3">40</text>
<text x="537.4" y="921.5" font-size="18.6" text-anchor="end" stroke="#000" stroke-width="0.3">20</text>
<text x="537.4" y="952.3" font-size="18.6" text-anchor="end" stroke="#000" stroke-width="0.3">0</text>
<line x1="553.0" y1="945.7" x2="743.6" y2="945.7" stroke="#000" stroke-width="2.4" stroke-linecap="butt"/>
<line x1="561.9" y1="945.7" x2="561.9" y2="954.0" stroke="#000" stroke-width="2.3" stroke-linecap="butt"/>
<text x="560.1" y="971.8" font-size="19.5" text-anchor="middle" stroke="#000" stroke-width="0.3" textLength="29.2" lengthAdjust="spacingAndGlyphs">-0.5</text>
<line x1="587.7" y1="945.7" x2="587.7" y2="954.0" stroke="#000" stroke-width="2.3" stroke-linecap="butt"/>
<text x="587.7" y="971.8" font-size="19.5" text-anchor="middle" stroke="#000" stroke-width="0.3" textLength="9.4" lengthAdjust="spacingAndGlyphs">0</text>
<line x1="613.5" y1="945.7" x2="613.5" y2="954.0" stroke="#000" stroke-width="2.3" stroke-linecap="butt"/>
<text x="613.5" y="971.8" font-size="19.5" text-anchor="middle" stroke="#000" stroke-width="0.3" textLength="23.6" lengthAdjust="spacingAndGlyphs">0.5</text>
<line x1="639.3" y1="945.7" x2="639.3" y2="954.0" stroke="#000" stroke-width="2.3" stroke-linecap="butt"/>
<text x="639.3" y="971.8" font-size="19.5" text-anchor="middle" stroke="#000" stroke-width="0.3" textLength="9.4" lengthAdjust="spacingAndGlyphs">1</text>
<line x1="665.1" y1="945.7" x2="665.1" y2="954.0" stroke="#000" stroke-width="2.3" stroke-linecap="butt"/>
<text x="665.1" y="971.8" font-size="19.5" text-anchor="middle" stroke="#000" stroke-width="0.3" textLength="23.6" lengthAdjust="spacingAndGlyphs">1.5</text>
<line x1="690.9" y1="945.7" x2="690.9" y2="954.0" stroke="#000" stroke-width="2.3" stroke-linecap="butt"/>
<text x="690.9" y="971.8" font-size="19.5" text-anchor="middle" stroke="#000" stroke-width="0.3" textLength="9.4" lengthAdjust="spacingAndGlyphs">2</text>
<line x1="716.7" y1="945.7" x2="716.7" y2="954.0" stroke="#000" stroke-width="2.3" stroke-linecap="butt"/>
<text x="716.7" y="971.8" font-size="19.5" text-anchor="middle" stroke="#000" stroke-width="0.3" textLength="23.6" lengthAdjust="spacingAndGlyphs">2.5</text>
<line x1="742.5" y1="945.7" x2="742.5" y2="954.0" stroke="#000" stroke-width="2.3" stroke-linecap="butt"/>
<text x="742.5" y="971.8" font-size="19.5" text-anchor="middle" stroke="#000" stroke-width="0.3" textLength="9.4" lengthAdjust="spacingAndGlyphs">3</text>
<text x="652.8" y="995.3" font-size="20.3" text-anchor="middle" stroke="#000" stroke-width="0.3">Time (min)</text>
<text transform="translate(500.6,942.9) rotate(-90)" font-size="22.5" stroke="#000" stroke-width="0.3">I<tspan font-size="21.6" dy="6.4" dx="0.7">ATP</tspan><tspan dy="-6.4" dx="1.5" font-size="22.5"> (</tspan><tspan dx="1.3" font-size="24">%</tspan><tspan> </tspan><tspan dx="-1.4">I</tspan><tspan font-size="22.6" dy="5.5" dx="1.3">max</tspan><tspan dy="-5.5" dx="1.6" font-size="22.5">)</tspan></text>
<polyline points="604.9,845.5 613.5,791.5 622.1,827.0 630.7,860.9 639.3,891.7 647.9,907.2 665.1,922.6 665.1,930.3 673.7,938.0 682.3,938.0 690.9,938.0 699.5,938.0 708.1,938.0 716.7,938.0 725.3,938.0 733.9,938.0 742.5,938.0" fill="none" stroke="#000" stroke-width="3.0" stroke-linejoin="round"/>
<circle cx="604.9" cy="845.5" r="4.4" fill="#000"/>
<circle cx="613.5" cy="791.5" r="4.4" fill="#000"/>
<circle cx="622.1" cy="827.0" r="4.4" fill="#000"/>
<circle cx="630.7" cy="860.9" r="4.4" fill="#000"/>
<circle cx="639.3" cy="891.7" r="4.4" fill="#000"/>
<circle cx="647.9" cy="907.2" r="4.4" fill="#000"/>
<circle cx="665.1" cy="922.6" r="4.4" fill="#000"/>
<circle cx="665.1" cy="930.3" r="4.4" fill="#000"/>
<circle cx="673.7" cy="938.0" r="4.4" fill="#000"/>
<circle cx="682.3" cy="938.0" r="4.4" fill="#000"/>
<circle cx="690.9" cy="938.0" r="4.4" fill="#000"/>
<circle cx="699.5" cy="938.0" r="4.4" fill="#000"/>
<circle cx="708.1" cy="938.0" r="4.4" fill="#000"/>
<circle cx="716.7" cy="938.0" r="4.4" fill="#000"/>
<circle cx="725.3" cy="938.0" r="4.4" fill="#000"/>
<circle cx="733.9" cy="938.0" r="4.4" fill="#000"/>
<circle cx="742.5" cy="938.0" r="4.4" fill="#000"/>
<polyline points="579.1,945.7 587.7,945.7 596.3,945.7 604.9,898.7 613.5,870.9 622.1,829.3 630.7,814.6 639.3,803.8 647.9,797.1 665.1,791.5 673.7,791.5 682.3,791.5 690.9,791.5 699.5,791.5 708.1,791.5 716.7,791.5 725.3,791.5 733.9,791.5 742.5,791.5" fill="none" stroke="#0000ff" stroke-width="3.0" stroke-linejoin="round"/>
<circle cx="579.1" cy="945.7" r="4.4" fill="#0000ff"/>
<circle cx="587.7" cy="945.7" r="4.4" fill="#0000ff"/>
<circle cx="596.3" cy="945.7" r="4.4" fill="#0000ff"/>
<circle cx="604.9" cy="898.7" r="4.4" fill="#0000ff"/>
<circle cx="613.5" cy="870.9" r="4.4" fill="#0000ff"/>
<circle cx="622.1" cy="829.3" r="4.4" fill="#0000ff"/>
<circle cx="630.7" cy="814.6" r="4.4" fill="#0000ff"/>
<circle cx="639.3" cy="803.8" r="4.4" fill="#0000ff"/>
<circle cx="647.9" cy="797.1" r="4.4" fill="#0000ff"/>
<circle cx="665.1" cy="791.5" r="4.4" fill="#0000ff"/>
<circle cx="673.7" cy="791.5" r="4.4" fill="#0000ff"/>
<circle cx="682.3" cy="791.5" r="4.4" fill="#0000ff"/>
<circle cx="690.9" cy="791.5" r="4.4" fill="#0000ff"/>
<circle cx="699.5" cy="791.5" r="4.4" fill="#0000ff"/>
<circle cx="708.1" cy="791.5" r="4.4" fill="#0000ff"/>
<circle cx="716.7" cy="791.5" r="4.4" fill="#0000ff"/>
<circle cx="725.3" cy="791.5" r="4.4" fill="#0000ff"/>
<circle cx="733.9" cy="791.5" r="4.4" fill="#0000ff"/>
<circle cx="742.5" cy="791.5" r="4.4" fill="#0000ff"/>
<polyline points="561.9,945.7 570.5,945.7 579.1,939.5 587.7,939.5 596.3,939.5 604.9,851.6 613.5,791.5 622.1,791.5 630.7,797.7 639.3,797.7 647.9,797.7 665.1,797.7 673.7,797.7 682.3,797.7 690.9,797.7 699.5,797.7 708.1,797.7 716.7,797.7 725.3,797.7 733.9,797.7 742.5,797.7" fill="none" stroke="#32cd32" stroke-width="3.0" stroke-linejoin="round"/>
<circle cx="561.9" cy="945.7" r="4.4" fill="#32cd32"/>
<circle cx="570.5" cy="945.7" r="4.4" fill="#32cd32"/>
<circle cx="579.1" cy="939.5" r="4.4" fill="#32cd32"/>
<circle cx="587.7" cy="939.5" r="4.4" fill="#32cd32"/>
<circle cx="596.3" cy="939.5" r="4.4" fill="#32cd32"/>
<circle cx="604.9" cy="851.6" r="4.4" fill="#32cd32"/>
<circle cx="613.5" cy="791.5" r="4.4" fill="#32cd32"/>
<circle cx="622.1" cy="791.5" r="4.4" fill="#32cd32"/>
<circle cx="630.7" cy="797.7" r="4.4" fill="#32cd32"/>
<circle cx="639.3" cy="797.7" r="4.4" fill="#32cd32"/>
<circle cx="647.9" cy="797.7" r="4.4" fill="#32cd32"/>
<circle cx="665.1" cy="797.7" r="4.4" fill="#32cd32"/>
<circle cx="673.7" cy="797.7" r="4.4" fill="#32cd32"/>
<circle cx="682.3" cy="797.7" r="4.4" fill="#32cd32"/>
<circle cx="690.9" cy="797.7" r="4.4" fill="#32cd32"/>
<circle cx="699.5" cy="797.7" r="4.4" fill="#32cd32"/>
<circle cx="708.1" cy="797.7" r="4.4" fill="#32cd32"/>
<circle cx="716.7" cy="797.7" r="4.4" fill="#32cd32"/>
<circle cx="725.3" cy="797.7" r="4.4" fill="#32cd32"/>
<circle cx="733.9" cy="797.7" r="4.4" fill="#32cd32"/>
<circle cx="742.5" cy="797.7" r="4.4" fill="#32cd32"/>
<text x="661.8" y="843.2" font-size="21.2" stroke="#000" stroke-width="0.3">con</text>
<text x="661.8" y="867.5" font-size="21.2" fill="#32cd32" stroke="#32cd32" stroke-width="0.3">YM58483</text>
<text x="661.8" y="892.4" font-size="21.2" fill="#0000ff" stroke="#0000ff" stroke-width="0.3">Ca<tspan font-size="12.5" dy="-6">2+</tspan><tspan dy="6"> free</tspan></text>
</svg>
</body></html>
